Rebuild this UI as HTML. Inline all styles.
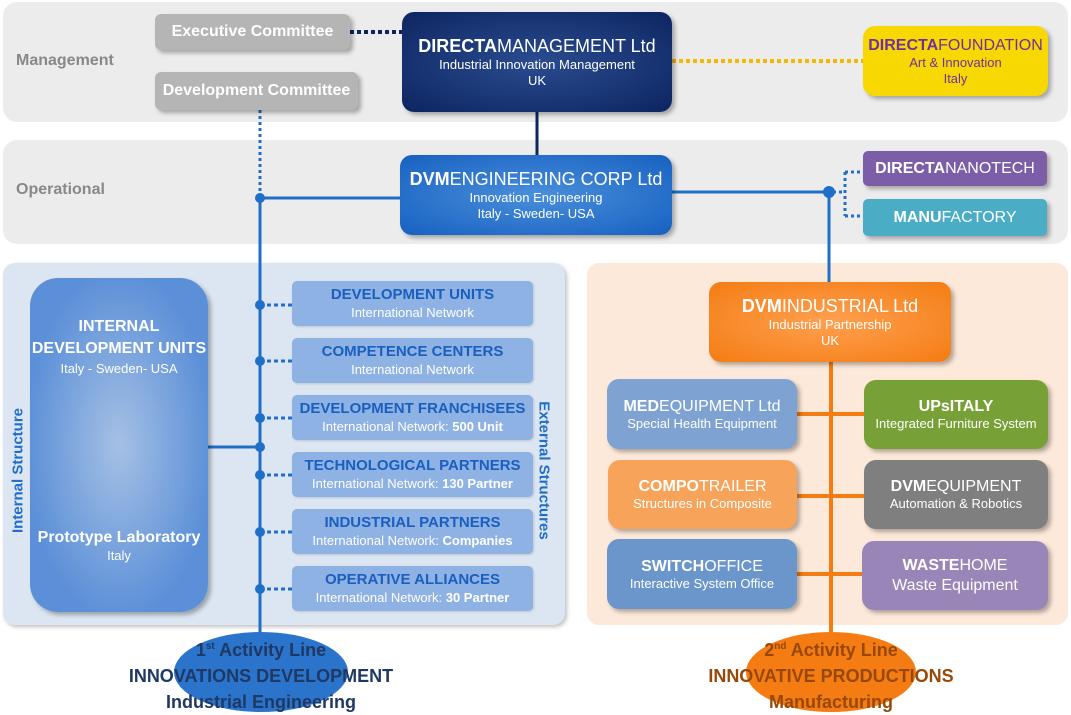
<!DOCTYPE html>
<html><head><meta charset="utf-8"><style>
*{margin:0;padding:0;box-sizing:border-box}
body{width:1071px;height:715px;background:#fff;position:relative;overflow:hidden;font-family:"Liberation Sans",sans-serif}
.a{position:absolute}
.box{position:absolute;border-radius:12px;text-align:center;box-shadow:3px 3px 4px rgba(0,0,0,.3);display:flex;flex-direction:column;justify-content:center;align-items:center;line-height:1.2}
.t{font-size:16px}
.s{font-size:13px}
b{font-weight:bold}
.xb{position:absolute;left:292px;width:241px;height:45px;background:#8fb2e4;border-radius:5px;text-align:center;color:#fff;font-size:13px;line-height:1.3;padding-top:4px;box-shadow:1px 1px 2px rgba(0,0,0,.15)}
.xb .h{color:#1a5fbf;font-size:15px;font-weight:bold}
</style></head><body>
<div class="a" style="left:3px;top:2px;width:1065px;height:120px;background:#ececec;border-radius:14px"></div>
<div class="a" style="left:3px;top:140px;width:1065px;height:104px;background:#ececec;border-radius:14px"></div>
<div class="a" style="left:16px;top:52px;font-size:16px;font-weight:bold;color:#888">Management</div>
<div class="a" style="left:16px;top:181px;font-size:16px;font-weight:bold;color:#888">Operational</div>
<div class="a" style="left:3px;top:263px;width:562px;height:362px;background:#dce6f2;border-radius:12px;box-shadow:2px 2px 4px rgba(0,0,0,.25)"></div>
<div class="a" style="left:587px;top:263px;width:481px;height:362px;background:#fde9d9;border-radius:12px"></div>

<svg class="a" style="left:0;top:0" width="1071" height="715">
<line x1="350" y1="32" x2="402" y2="32" stroke="#0d2560" stroke-width="4" stroke-dasharray="4,3"/>
<line x1="672" y1="61" x2="863" y2="61" stroke="#f5b800" stroke-width="4" stroke-dasharray="4,3"/>
<line x1="537" y1="112" x2="537" y2="156" stroke="#0d2560" stroke-width="3"/>
<line x1="260" y1="110" x2="260" y2="196" stroke="#1f6fc8" stroke-width="3" stroke-dasharray="3,3"/>
<line x1="260" y1="196" x2="260" y2="640" stroke="#1f6fc8" stroke-width="3"/>
<line x1="260" y1="198" x2="400" y2="198" stroke="#1f6fc8" stroke-width="3"/>
<line x1="672" y1="192" x2="830" y2="192" stroke="#1f6fc8" stroke-width="3"/>
<line x1="829" y1="192" x2="829" y2="284" stroke="#1f6fc8" stroke-width="3"/>
<circle cx="260" cy="198" r="5" fill="#1f6fc8"/><circle cx="829" cy="192" r="6" fill="#1f6fc8"/>
<path d="M833 192 H845 M845 172 V216 M845 172 H863 M845 216 H863" stroke="#1f6fc8" stroke-width="3" stroke-dasharray="3,3" fill="none"/>
<g stroke="#1f6fc8" stroke-width="3" stroke-dasharray="4,3">
<line x1="260" y1="305" x2="292" y2="305"/><line x1="260" y1="361" x2="292" y2="361"/><line x1="260" y1="418" x2="292" y2="418"/><line x1="260" y1="475" x2="292" y2="475"/><line x1="260" y1="532" x2="292" y2="532"/><line x1="260" y1="589" x2="292" y2="589"/></g>
<g fill="#1f6fc8"><circle cx="260" cy="305" r="5"/><circle cx="260" cy="361" r="5"/><circle cx="260" cy="418" r="5"/><circle cx="260" cy="475" r="5"/><circle cx="260" cy="532" r="5"/><circle cx="260" cy="589" r="5"/><circle cx="260" cy="447" r="5"/></g>
<line x1="208" y1="447" x2="260" y2="447" stroke="#1f6fc8" stroke-width="3"/>
<line x1="831" y1="362" x2="831" y2="640" stroke="#f47c12" stroke-width="4"/>
<g stroke="#f47c12" stroke-width="4"><line x1="797" y1="414" x2="864" y2="414"/><line x1="797" y1="496" x2="864" y2="496"/><line x1="797" y1="574" x2="864" y2="574"/></g>
<ellipse cx="261" cy="672" rx="87" ry="40" fill="#2b74cc"/>
<ellipse cx="831" cy="672" rx="85" ry="40" fill="#f47c12"/>
</svg>

<div class="box" style="left:155px;top:14px;width:195px;height:36px;background:#b5b5b5;border-radius:6px;color:#fff;font-weight:bold;font-size:16px">Executive Committee</div>
<div class="box" style="left:155px;top:72px;width:203px;height:38px;background:#b5b5b5;border-radius:6px;color:#fff;font-weight:bold;font-size:16px">Development Committee</div>
<div class="box" style="left:402px;top:12px;width:270px;height:100px;background:radial-gradient(ellipse at center,#2a4c90,#0d2560);color:#fff"><div style="font-size:18px"><b>DIRECTA</b>MANAGEMENT Ltd</div><div class="s">Industrial Innovation Management</div><div class="s">UK</div></div>
<div class="box" style="left:863px;top:26px;width:185px;height:70px;background:#f7d800;color:#7030a0"><div style="font-size:16px"><b>DIRECTA</b>FOUNDATION</div><div class="s">Art &amp; Innovation</div><div class="s">Italy</div></div>
<div class="box" style="left:400px;top:155px;width:272px;height:80px;background:radial-gradient(ellipse at center,#4a8fdc,#1660c0);color:#fff"><div style="font-size:18px"><b>DVM</b>ENGINEERING CORP Ltd</div><div class="s">Innovation Engineering</div><div class="s">Italy - Sweden- USA</div></div>
<div class="box" style="left:863px;top:151px;width:184px;height:35px;background:#7b5ea7;border-radius:5px;color:#fff;font-size:16px"><div><b>DIRECTA</b>NANOTECH</div></div>
<div class="box" style="left:863px;top:199px;width:184px;height:37px;background:#4bacc6;border-radius:5px;color:#fff;font-size:16px"><div><b>MANU</b>FACTORY</div></div>

<div class="box" style="left:30px;top:278px;width:178px;height:334px;border-radius:28px;background:radial-gradient(ellipse at center,#a5c0e4,#5b8fd8 75%);color:#fff;justify-content:flex-start;padding-top:38px"><div style="font-size:16px;font-weight:bold;line-height:1.4">INTERNAL<br>DEVELOPMENT UNITS</div><div class="s">Italy - Sweden- USA</div><div style="font-size:16px;font-weight:bold;margin-top:152px">Prototype Laboratory</div><div class="s">Italy</div></div>
<div class="a" style="left:-52px;top:462px;width:140px;transform:rotate(-90deg);text-align:center;font-size:15px;font-weight:bold;color:#1f6fc8">Internal Structure</div>
<div class="a" style="left:474px;top:462px;width:140px;transform:rotate(90deg);text-align:center;font-size:15px;font-weight:bold;color:#1f6fc8">External Structures</div>

<div class="xb" style="top:281px"><div class="h">DEVELOPMENT UNITS</div>International Network</div>
<div class="xb" style="top:338px"><div class="h">COMPETENCE CENTERS</div>International Network</div>
<div class="xb" style="top:395px"><div class="h">DEVELOPMENT FRANCHISEES</div>International Network: <b>500 Unit</b></div>
<div class="xb" style="top:452px"><div class="h">TECHNOLOGICAL PARTNERS</div>International Network: <b>130 Partner</b></div>
<div class="xb" style="top:509px"><div class="h">INDUSTRIAL PARTNERS</div>International Network: <b>Companies</b></div>
<div class="xb" style="top:566px"><div class="h">OPERATIVE ALLIANCES</div>International Network: <b>30 Partner</b></div>

<div class="box" style="left:709px;top:282px;width:242px;height:80px;background:radial-gradient(ellipse at center,#ffa050,#f47c12);color:#fff"><div style="font-size:18px"><b>DVM</b>INDUSTRIAL Ltd</div><div class="s">Industrial Partnership</div><div class="s">UK</div></div>
<div class="box" style="left:607px;top:379px;width:190px;height:70px;background:#7ea3d3;color:#fff"><div class="t"><b>MED</b>EQUIPMENT Ltd</div><div class="s">Special Health Equipment</div></div>
<div class="box" style="left:864px;top:380px;width:184px;height:69px;background:#77a037;color:#fff"><div class="t"><b>UPsITALY</b></div><div class="s">Integrated Furniture System</div></div>
<div class="box" style="left:608px;top:460px;width:189px;height:69px;background:#f8a35a;color:#fff"><div class="t"><b>COMPO</b>TRAILER</div><div class="s">Structures in Composite</div></div>
<div class="box" style="left:864px;top:460px;width:184px;height:69px;background:#7f7f7f;color:#fff"><div class="t"><b>DVM</b>EQUIPMENT</div><div class="s">Automation &amp; Robotics</div></div>
<div class="box" style="left:607px;top:539px;width:190px;height:70px;background:#6b96cc;color:#fff"><div class="t"><b>SWITCH</b>OFFICE</div><div class="s">Interactive System Office</div></div>
<div class="box" style="left:862px;top:541px;width:186px;height:69px;background:#9a85b8;color:#fff"><div class="t"><b>WASTE</b>HOME</div><div style="font-size:16px">Waste Equipment</div></div>

<div class="a" style="left:100px;top:634px;width:322px;text-align:center;color:#1f3864;font-weight:bold;font-size:18px;line-height:26px">1<sup style="font-size:10px">st</sup> Activity Line<br>INNOVATIONS DEVELOPMENT<br>Industrial Engineering</div>
<div class="a" style="left:670px;top:634px;width:322px;text-align:center;color:#974806;font-weight:bold;font-size:18px;line-height:26px">2<sup style="font-size:10px">nd</sup> Activity Line<br>INNOVATIVE PRODUCTIONS<br>Manufacturing</div>
</body></html>
